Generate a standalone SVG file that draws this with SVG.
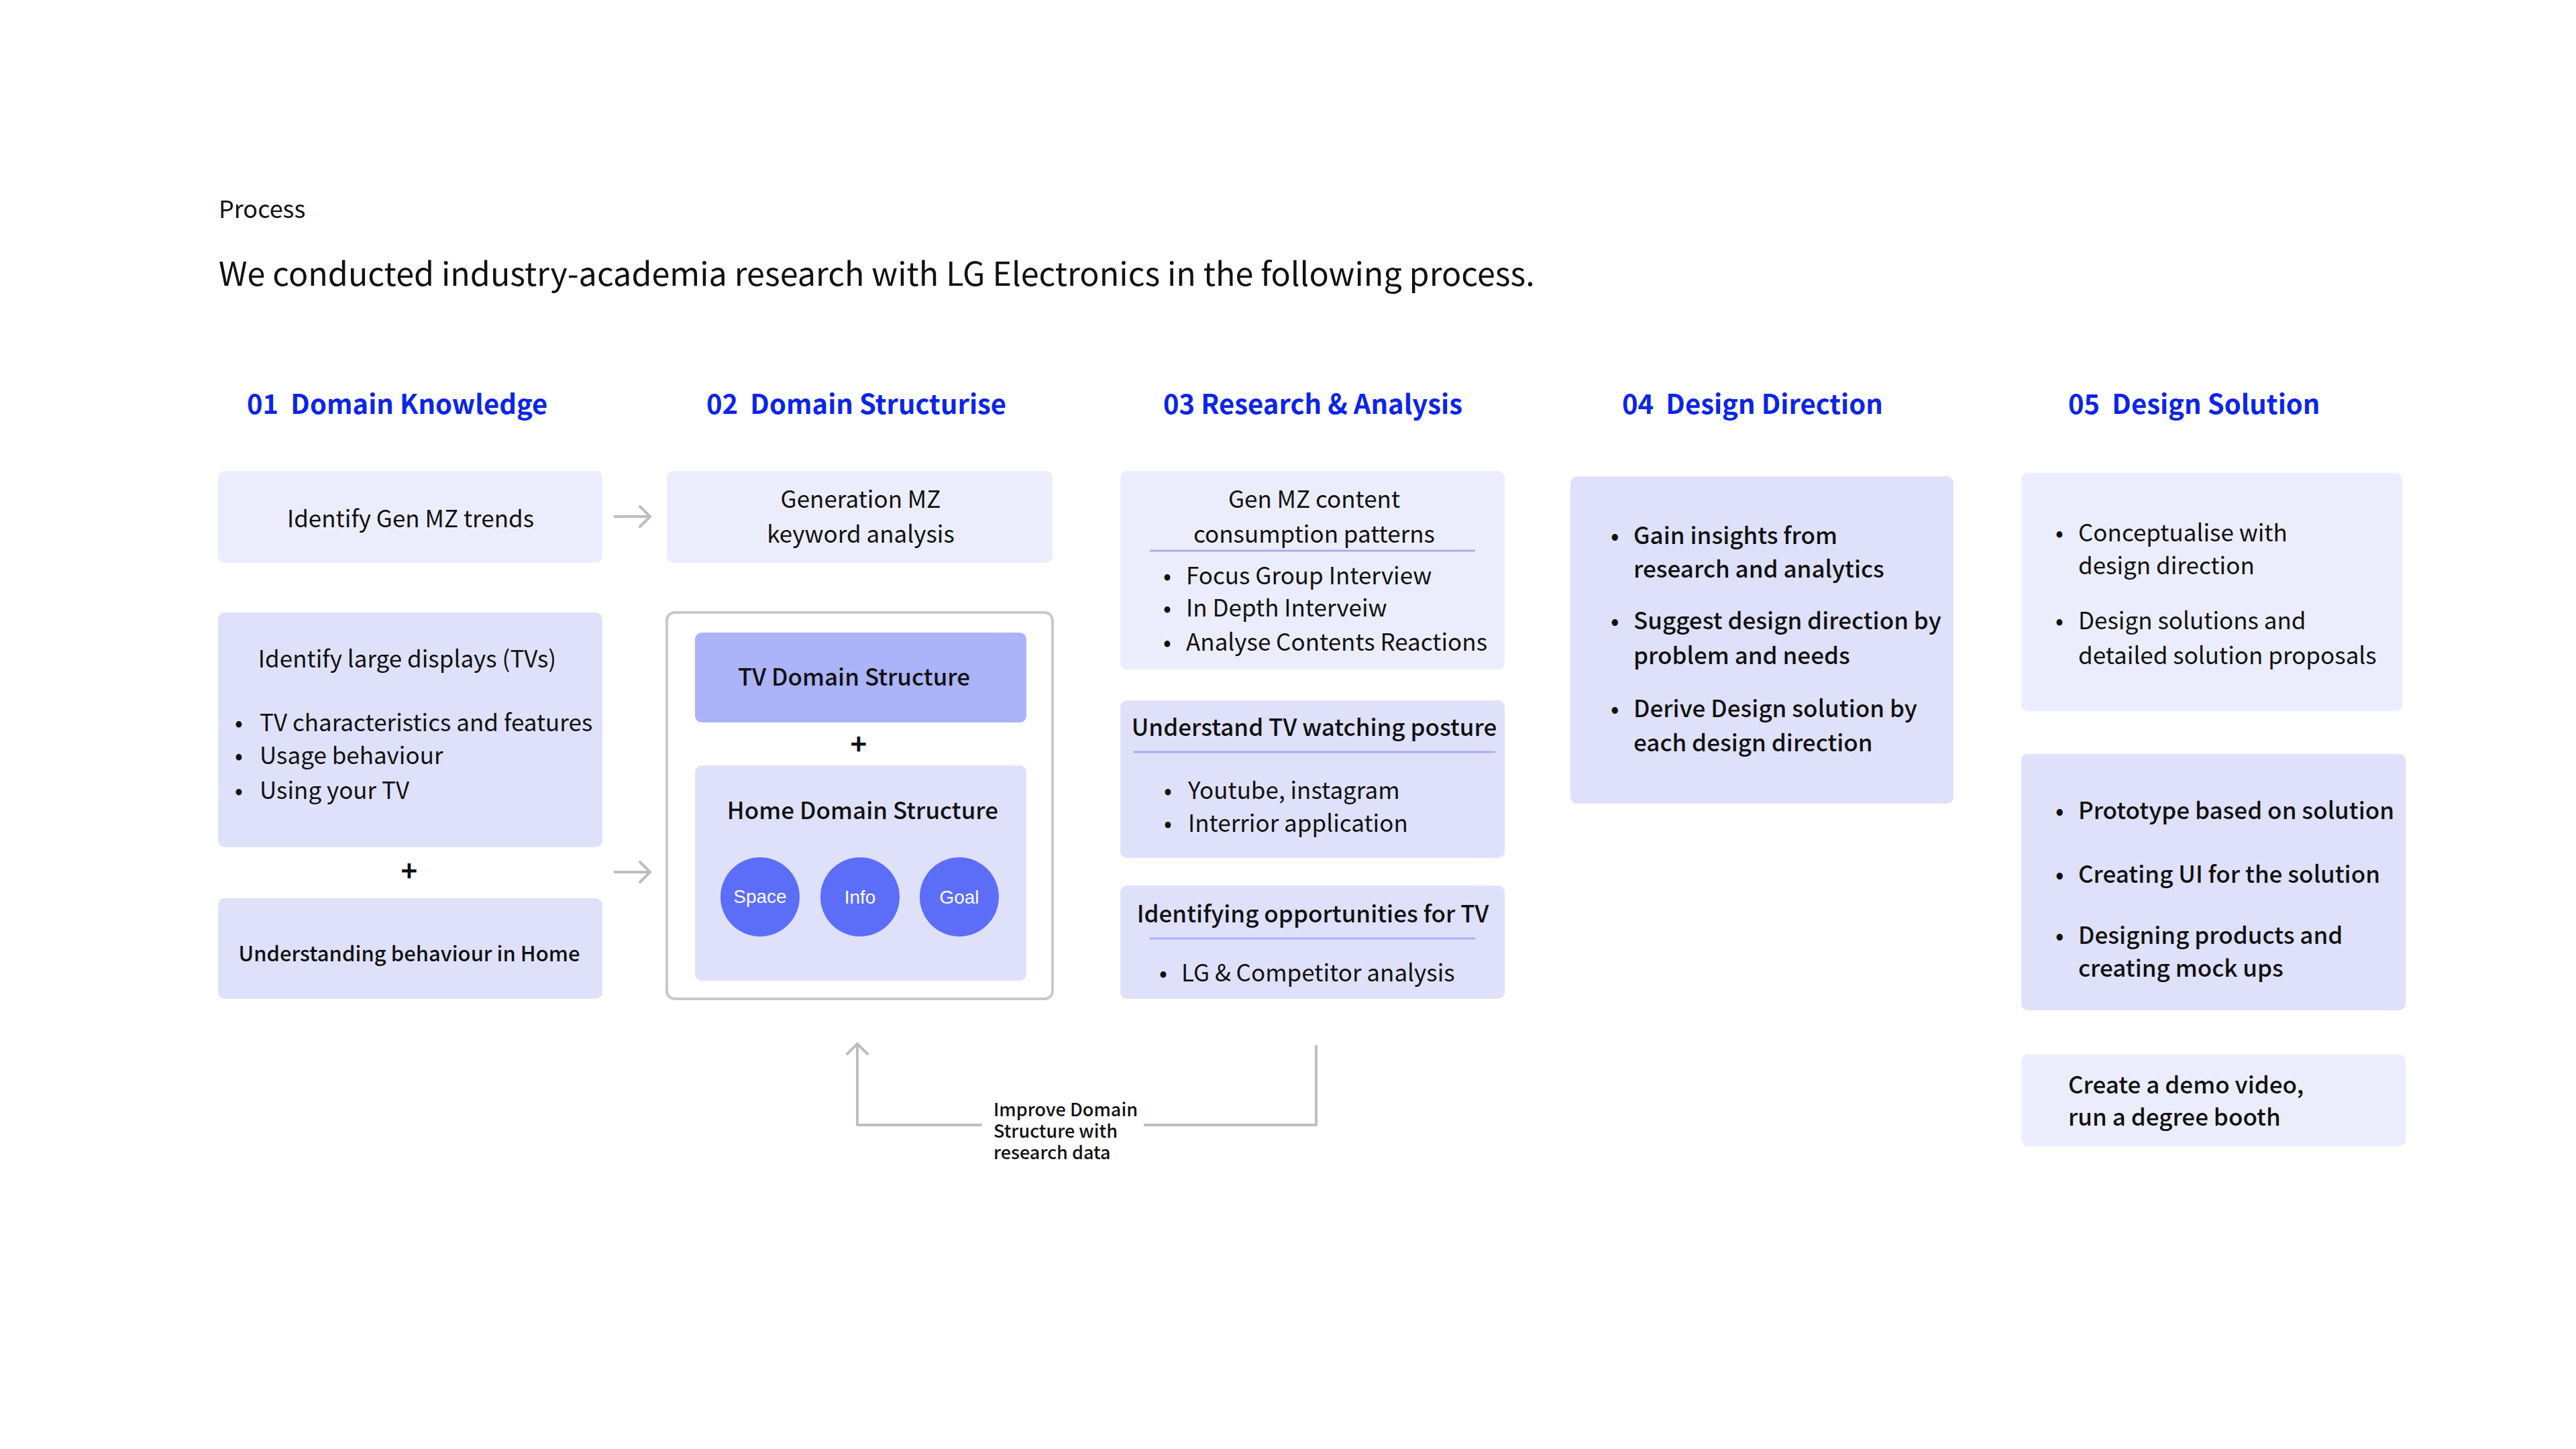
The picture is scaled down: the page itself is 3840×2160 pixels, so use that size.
<svg xmlns="http://www.w3.org/2000/svg" width="3840" height="2160" viewBox="0 0 3840 2160">
<defs>
<style>
.t{font-family:"Noto Sans CJK KR","Noto Sans",sans-serif;fill:#111;}
.b{font-size:35px;}
.c{text-anchor:middle;}
.m{font-weight:500;}
.h{font-size:40px;font-weight:700;fill:#0b25ea;}
.lt{fill:#ecedfc;}
.md{fill:#dfe1fb;}
.tv{fill:#abb3f9;}
.dot{fill:#5c6ef8;}
.ct{font-family:"Liberation Sans",Arial,sans-serif;font-size:28px;fill:#fff;text-anchor:middle;}
.ul{stroke:#a9afee;stroke-width:3;}
.plus{font-size:42px;font-weight:700;}
.conn{stroke:#bcbec2;stroke-width:4;fill:none;stroke-linejoin:round;}
</style>
<marker id="arr" viewBox="-18 -18 22 36" refX="0" refY="0" markerWidth="22" markerHeight="36" markerUnits="userSpaceOnUse" orient="auto">
<path d="M-15,-15 L0,0 L-15,15" fill="none" stroke="#bcbec2" stroke-width="4" stroke-linecap="round" stroke-linejoin="round"/>
</marker>
</defs>
<rect width="3840" height="2160" fill="#fff"/>

<g id="header">
<text class="t" x="326" y="325" font-size="36">Process</text>
<text class="t" x="326" y="426" font-size="48.5">We conducted industry-academia research with LG Electronics in the following process.</text>
</g>

<g id="headings">
<text class="t h" x="368" y="617">01&#160; Domain Knowledge</text>
<text class="t h" x="1053" y="617">02&#160; Domain Structurise</text>
<text class="t h" x="1734" y="617">03 Research &amp; Analysis</text>
<text class="t h" x="2418" y="617">04&#160; Design Direction</text>
<text class="t h" x="3083" y="617">05&#160; Design Solution</text>
</g>

<g id="n-genmz-trends">
<rect class="lt" x="325" y="702" width="573" height="137" rx="10"/>
<text class="t b c" x="612" y="786">Identify Gen MZ trends</text>
</g>

<g id="n-large-displays">
<rect class="md" x="325" y="913" width="573" height="350" rx="10"/>
<text class="t b c" x="607" y="995">Identify large displays (TVs)</text>
<text class="t b" x="350" y="1090">•</text><text class="t b" x="387" y="1090">TV characteristics and features</text>
<text class="t b" x="350" y="1139">•</text><text class="t b" x="387" y="1139">Usage behaviour</text>
<text class="t b" x="350" y="1191">•</text><text class="t b" x="387" y="1191">Using your TV</text>
</g>

<g id="plus-1">
<text class="t plus c" x="610" y="1314">+</text>
</g>

<g id="n-behaviour-home">
<rect class="md" x="325" y="1339" width="573" height="150" rx="10"/>
<text class="t c m" x="610" y="1433" font-size="31">Understanding behaviour in Home</text>
</g>

<g id="n-keyword">
<rect class="lt" x="994" y="702" width="575" height="137" rx="10"/>
<text class="t b c" x="1283" y="757">Generation MZ</text>
<text class="t b c" x="1283" y="809">keyword analysis</text>
</g>

<g id="n-domain-structure">
<rect x="994" y="913" width="575" height="576" rx="12" fill="#fff" stroke="#c8c9cc" stroke-width="4"/>
<g id="n-tv-domain">
<rect class="tv" x="1036" y="943" width="494" height="134" rx="10"/>
<text class="t b c m" x="1273" y="1022">TV Domain Structure</text>
</g>
<text class="t plus c" x="1280" y="1125">+</text>
<g id="n-home-domain">
<rect class="md" x="1036" y="1141" width="494" height="321" rx="10"/>
<text class="t b c m" x="1286" y="1221">Home Domain Structure</text>
<circle class="dot" cx="1133" cy="1337" r="59"/>
<text class="ct" x="1133" y="1346">Space</text>
<circle class="dot" cx="1282" cy="1337" r="59"/>
<text class="ct" x="1282" y="1347">Info</text>
<circle class="dot" cx="1430" cy="1337" r="59"/>
<text class="ct" x="1430" y="1347">Goal</text>
</g>
</g>

<g id="n-content-patterns">
<rect class="lt" x="1670" y="702" width="573" height="296" rx="10"/>
<text class="t b c" x="1959" y="757">Gen MZ content</text>
<text class="t b c" x="1959" y="809">consumption patterns</text>
<line class="ul" x1="1714" y1="821" x2="2199" y2="821"/>
<text class="t b" x="1734" y="871">•</text><text class="t b" x="1768" y="871">Focus Group Interview</text>
<text class="t b" x="1734" y="919">•</text><text class="t b" x="1768" y="919">In Depth Interveiw</text>
<text class="t b" x="1734" y="970">•</text><text class="t b" x="1768" y="970">Analyse Contents Reactions</text>
</g>

<g id="n-watching-posture">
<rect class="md" x="1670" y="1044" width="573" height="235" rx="10"/>
<text class="t b c m" x="1959" y="1097">Understand TV watching posture</text>
<line class="ul" x1="1689" y1="1121" x2="2229" y2="1121"/>
<text class="t b" x="1735" y="1191">•</text><text class="t b" x="1771" y="1191">Youtube, instagram</text>
<text class="t b" x="1735" y="1240">•</text><text class="t b" x="1771" y="1240">Interrior application</text>
</g>

<g id="n-opportunities">
<rect class="md" x="1670" y="1320" width="573" height="169" rx="10"/>
<text class="t b c m" x="1957" y="1375">Identifying opportunities for TV</text>
<line class="ul" x1="1714" y1="1399" x2="2199" y2="1399"/>
<text class="t b" x="1728" y="1463">•</text><text class="t b" x="1761" y="1463">LG &amp; Competitor analysis</text>
</g>

<g id="n-design-direction">
<rect class="md" x="2341" y="710" width="571" height="488" rx="10"/>
<text class="t b m" x="2401" y="811">•</text><text class="t b m" x="2435" y="811">Gain insights from</text>
<text class="t b m" x="2435" y="861">research and analytics</text>
<text class="t b m" x="2401" y="938">•</text><text class="t b m" x="2435" y="938">Suggest design direction by</text>
<text class="t b m" x="2435" y="990">problem and needs</text>
<text class="t b m" x="2401" y="1069">•</text><text class="t b m" x="2435" y="1069">Derive Design solution by</text>
<text class="t b m" x="2435" y="1120">each design direction</text>
</g>

<g id="n-conceptualise">
<rect class="lt" x="3013" y="705" width="568" height="355" rx="10"/>
<text class="t b" x="3064" y="807">•</text><text class="t b" x="3098" y="807">Conceptualise with</text>
<text class="t b" x="3098" y="856">design direction</text>
<text class="t b" x="3064" y="938">•</text><text class="t b" x="3098" y="938">Design solutions and</text>
<text class="t b" x="3098" y="990">detailed solution proposals</text>
</g>

<g id="n-prototype">
<rect class="md" x="3013" y="1124" width="573" height="382" rx="10"/>
<text class="t b m" x="3064" y="1221">•</text><text class="t b m" x="3098" y="1221">Prototype based on solution</text>
<text class="t b m" x="3064" y="1316">•</text><text class="t b m" x="3098" y="1316">Creating UI for the solution</text>
<text class="t b m" x="3064" y="1407">•</text><text class="t b m" x="3098" y="1407">Designing products and</text>
<text class="t b m" x="3098" y="1456">creating mock ups</text>
</g>

<g id="n-demo">
<rect class="lt" x="3013" y="1572" width="573" height="137" rx="10"/>
<text class="t b m" x="3083" y="1630">Create a demo video,</text>
<text class="t b m" x="3083" y="1678">run a degree booth</text>
</g>

<g id="connectors">
<line class="conn" x1="915" y1="770" x2="969" y2="770" marker-end="url(#arr)"/>
<line class="conn" x1="915" y1="1300" x2="969" y2="1300" marker-end="url(#arr)"/>
<path class="conn" d="M1962,1558 V1677 H1705"/>
<path class="conn" d="M1464,1677 H1278 V1556" marker-end="url(#arr)"/>
<g id="feedback-label">
<text class="t m" font-size="27"><tspan x="1481" y="1664">Improve Domain</tspan><tspan x="1481" y="1696">Structure with</tspan><tspan x="1481" y="1728">research data</tspan></text>
</g>
</g>
</svg>
